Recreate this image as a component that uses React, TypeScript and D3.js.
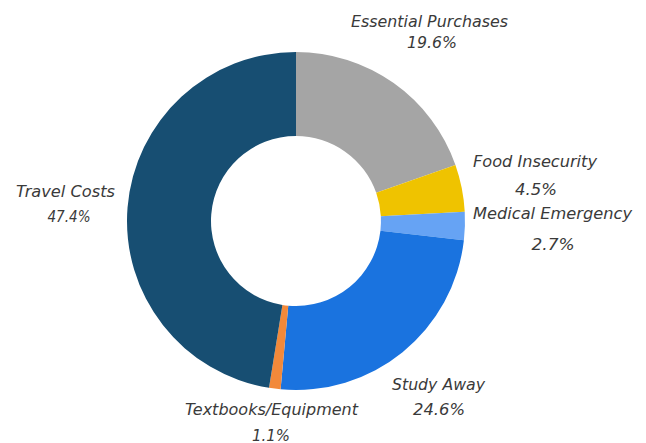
import React from "react";
import * as d3 from "d3";

const categories = [
  "Essential Purchases",
  "Food Insecurity",
  "Medical Emergency",
  "Study Away",
  "Textbooks/Equipment",
  "Travel Costs",
];
const values = [19.6, 4.5, 2.7, 24.6, 1.1, 47.4];
const colors = ["#a5a5a5", "#efc300", "#66a3f4", "#1a73df", "#f2893a", "#174e72"];
const labelText = ["19.6%", "4.5%", "2.7%", "24.6%", "1.1%", "47.4%"];

// label layout: [nameX, nameY, anchor, nameWidth, pctX, pctY, pctWidth]
const labelPos: [number, number, string, number, number, number, number][] = [
  [429.5, 27, "middle", 157, 432, 48, 50],
  [473, 167, "start", 124, 536, 195, 42],
  [473, 219, "start", 159, 553, 250, 43],
  [438.5, 390, "middle", 93, 439, 415, 52],
  [271.5, 415, "middle", 173, 271, 441, 38],
  [65.5, 197, "middle", 99, 69, 222, 43],
];

export default function App() {
  const W = 646;
  const H = 443;
  const cx = 296;
  const cy = 221;
  const R = 169;
  const r = 85;
  const pie = d3
    .pie<number>()
    .sort(null)
    .value((d) => d);
  const arcs = pie(values);
  const arc = d3.arc<d3.PieArcDatum<number>>().innerRadius(r).outerRadius(R);
  const font = "'DejaVu Sans', sans-serif";
  return (
    <svg
      width={W}
      height={H}
      style={{ position: "absolute", left: 0, top: 0, background: "#fff" }}
    >
      <g transform={`translate(${cx},${cy})`}>
        {arcs.map((a, i) => (
          <path key={i} d={arc(a) || ""} fill={colors[i]} />
        ))}
      </g>
      {categories.map((c, i) => {
        const [nx, ny, anchor, nw, px, py, pw] = labelPos[i];
        return (
          <g key={c} fontFamily={font} fontStyle="italic" fontSize={15.5} fill="#3a3a3a">
            <text
              x={nx}
              y={ny}
              textAnchor={anchor as any}
              textLength={nw}
              lengthAdjust="spacingAndGlyphs"
            >
              {c}
            </text>
            <text
              x={px}
              y={py}
              textAnchor="middle"
              textLength={pw}
              lengthAdjust="spacingAndGlyphs"
            >
              {labelText[i]}
            </text>
          </g>
        );
      })}
    </svg>
  );
}
